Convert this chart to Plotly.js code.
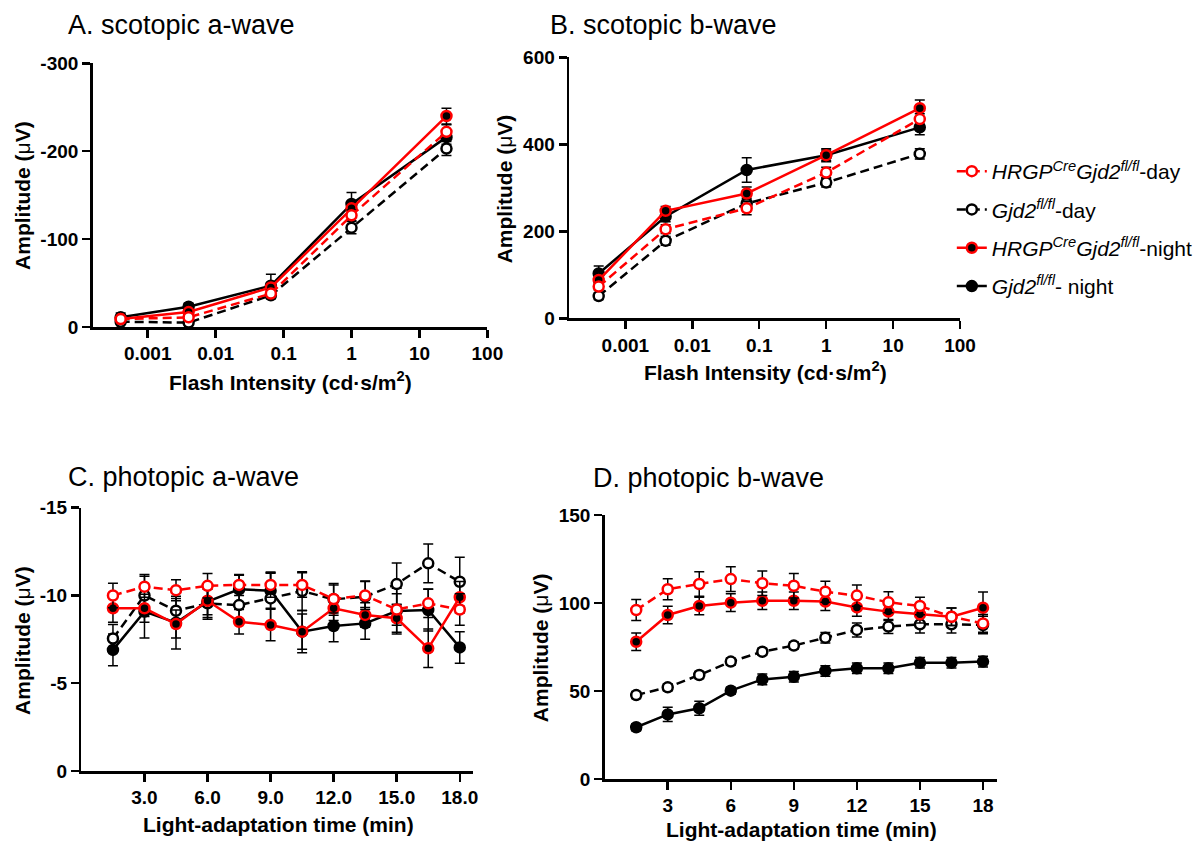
<!DOCTYPE html>
<html>
<head>
<meta charset="utf-8">
<script src="https://cdn.plot.ly/plotly-3.0.1.min.js"></script>
<style>html,body{margin:0;padding:0;background:#fff;}#chart{width:1198px;height:842px;}</style>
</head>
<body>
<div id="chart"></div>
<script>
// ---------- DATA ----------
var seriesNames = [
  "<i>HRGP<sup>Cre</sup>Gjd2<sup>fl/fl</sup></i>-day",
  "<i>Gjd2<sup>fl/fl</sup></i>-day",
  "<i>HRGP<sup>Cre</sup>Gjd2<sup>fl/fl</sup></i>-night",
  "<i>Gjd2<sup>fl/fl</sup></i>- night"
];
var flashIntensity = [0.0004, 0.004, 0.065, 1, 25];
var flashTickVals = [0.001, 0.01, 0.1, 1, 10, 100];
var flashTickText = ["0.001", "0.01", "0.1", "1", "10", "100"];
var adaptTime = [1.5, 3, 4.5, 6, 7.5, 9, 10.5, 12, 13.5, 15, 16.5, 18];
var adaptTickVals = [3, 6, 9, 12, 15, 18];
var adaptTickTextC = ["3.0", "6.0", "9.0", "12.0", "15.0", "18.0"];
var adaptTickTextD = ["3", "6", "9", "12", "15", "18"];

// A. scotopic a-wave (µV)
var aDayHRGP   = [-9, -11, -38, -127, -222];
var aDayGjd    = [-6, -5, -36, -113, -203];
var aNightHRGP = [-9, -17, -45, -135, -240];
var aNightGjd  = [-11, -23, -47, -140, -216];
var aErrDayHRGP   = [4, 3, 4, 6, 8];
var aErrDayGjd    = [3, 2, 4, 7, 8];
var aErrNightHRGP = [4, 3, 5, 8, 9];
var aErrNightGjd  = [5, 4, 13, 13, 8];

// B. scotopic b-wave (µV)
var bDayHRGP   = [73, 205, 253, 335, 458];
var bDayGjd    = [51, 178, 264, 312, 378];
var bNightHRGP = [88, 247, 287, 375, 483];
var bNightGjd  = [103, 234, 341, 375, 439];
var bErrDayHRGP   = [8, 10, 15, 12, 12];
var bErrDayGjd    = [8, 10, 12, 10, 12];
var bErrNightHRGP = [10, 10, 15, 12, 19];
var bErrNightGjd  = [17, 12, 28, 15, 17];

// C. photopic a-wave (µV)
var cDayHRGP   = [-10.0, -10.5, -10.3, -10.55, -10.6, -10.6, -10.6, -9.8, -10.0, -9.2, -9.55, -9.2];
var cDayGjd    = [-7.55, -10.0, -9.13, -9.55, -9.45, -9.83, -10.25, -9.78, -9.93, -10.65, -11.83, -10.78];
var cNightHRGP = [-9.27, -9.27, -8.37, -9.7, -8.5, -8.32, -7.94, -9.27, -8.89, -8.7, -6.99, -9.9];
var cNightGjd  = [-6.9, -9.08, -8.45, -9.65, -10.35, -10.27, -7.94, -8.26, -8.41, -9.11, -9.17, -7.04];
var cErrDayHRGP   = [0.7, 0.6, 0.6, 0.7, 0.6, 0.7, 0.7, 0.8, 0.8, 0.9, 0.8, 0.9];
var cErrDayGjd    = [0.8, 1.2, 0.7, 0.8, 0.8, 1.5, 1.1, 0.9, 0.9, 1.2, 1.1, 1.4];
var cErrNightHRGP = [0.8, 0.8, 0.8, 0.8, 0.7, 0.9, 1.0, 0.7, 0.7, 0.8, 1.1, 0.9];
var cErrNightGjd  = [0.9, 1.5, 1.5, 1.0, 0.8, 1.0, 1.2, 0.9, 0.9, 1.3, 1.2, 0.9];

// D. photopic b-wave (µV)
var dDayHRGP   = [96, 107.8, 110.8, 113.6, 111.2, 109.8, 106.4, 104.2, 100.4, 98.3, 92.2, 88.4];
var dDayGjd    = [47.7, 52.1, 59.1, 66.7, 72.3, 75.8, 80.3, 84.7, 86.6, 87.9, 87.9, 87.5];
var dNightHRGP = [78, 93.2, 98.3, 100.2, 101.3, 101.3, 100.8, 97.5, 95.1, 93.6, 92.2, 97.3];
var dNightGjd  = [29.4, 36.7, 40.2, 50.2, 56.6, 58.1, 61.4, 62.9, 62.9, 66.1, 66.1, 66.7];
var dErrDayHRGP   = [6, 6, 7, 7, 7, 7, 6, 6, 6, 5, 5, 5];
var dErrDayGjd    = [2, 2, 2, 2, 2, 2, 3, 4, 4, 5, 5, 5];
var dErrNightHRGP = [5, 5, 5, 5, 5, 5, 5, 5, 5, 5, 5, 9];
var dErrNightGjd  = [2, 4, 4, 2, 3, 3, 3, 3, 3, 3, 3, 3];

// ---------- STYLE ----------
var W = 1198, H = 842;
var FONT = "Liberation Sans, Arial, Helvetica, sans-serif";
var RED = "#ff0000", BLK = "#000000";
var styles = [
  {line: RED, dash: "9px,5px", fill: "#ffffff", mline: RED, rank: 1},
  {line: BLK, dash: "9px,5px", fill: "#ffffff", mline: BLK, rank: 2},
  {line: RED, dash: "solid",   fill: BLK,       mline: RED, rank: 3},
  {line: BLK, dash: "solid",   fill: BLK,       mline: BLK, rank: 4}
];
function px2x(p) { return p / W; }
function px2y(p) { return 1 - p / H; }

var panels = [
  {xa: "x",  ya: "y",  x: flashIntensity, ys: [aDayHRGP, aDayGjd, aNightHRGP, aNightGjd], es: [aErrDayHRGP, aErrDayGjd, aErrNightHRGP, aErrNightGjd], legend: false},
  {xa: "x2", ya: "y2", x: flashIntensity, ys: [bDayHRGP, bDayGjd, bNightHRGP, bNightGjd], es: [bErrDayHRGP, bErrDayGjd, bErrNightHRGP, bErrNightGjd], legend: true},
  {xa: "x3", ya: "y3", x: adaptTime,      ys: [cDayHRGP, cDayGjd, cNightHRGP, cNightGjd], es: [cErrDayHRGP, cErrDayGjd, cErrNightHRGP, cErrNightGjd], legend: false},
  {xa: "x4", ya: "y4", x: adaptTime,      ys: [dDayHRGP, dDayGjd, dNightHRGP, dNightGjd], es: [dErrDayHRGP, dErrDayGjd, dErrNightHRGP, dErrNightGjd], legend: false}
];
var drawOrder = [3, 1, 2, 0];
var traces = [];
panels.forEach(function (p) {
  drawOrder.forEach(function (k) {
    var s = styles[k];
    traces.push({
      type: "scatter", mode: "lines+markers",
      x: p.x, y: p.ys[k], xaxis: p.xa, yaxis: p.ya,
      name: seriesNames[k], legendgroup: "g" + k, legendrank: s.rank,
      showlegend: p.legend,
      line: {color: s.line, width: 2.5, dash: s.dash},
      marker: {symbol: "circle", size: 10, color: s.fill, line: {color: s.mline, width: 2.5}},
      error_y: {type: "data", array: p.es[k], visible: true, color: BLK, thickness: 1.5, width: 5},
      hoverinfo: "x+y"
    });
  });
});

function axisBase(extra) {
  var a = {
    showline: true, linecolor: BLK, linewidth: 2.5, mirror: false,
    ticks: "outside", ticklen: 8, tickwidth: 2.5, tickcolor: BLK,
    showgrid: false, zeroline: false, fixedrange: true,
    tickfont: {family: FONT, size: 19, color: BLK, weight: "bold"}
  };
  for (var k in extra) a[k] = extra[k];
  return a;
}

var layout = {
  width: W, height: H,
  margin: {l: 0, r: 0, t: 0, b: 0},
  paper_bgcolor: "#ffffff", plot_bgcolor: "#ffffff",
  font: {family: FONT, color: BLK},
  showlegend: true,
  legend: {
    x: px2x(955), y: px2y(151), xanchor: "left", yanchor: "top",
    font: {family: FONT, size: 21, color: BLK},
    bgcolor: "rgba(0,0,0,0)", borderwidth: 0,
    traceorder: "grouped", tracegroupgap: 8, itemwidth: 30
  },
  xaxis: axisBase({type: "log", domain: [px2x(93), px2x(489)], range: [-3.81, 2], anchor: "y",
    tickmode: "array", tickvals: flashTickVals, ticktext: flashTickText}),
  yaxis: axisBase({domain: [px2y(327), px2y(63.3)], range: [0, -300], anchor: "x",
    tickmode: "array", tickvals: [0, -100, -200, -300], ticktext: ["0", "-100", "-200", "-300"]}),
  xaxis2: axisBase({type: "log", domain: [px2x(571), px2x(963.3)], range: [-3.84, 2], anchor: "y2",
    tickmode: "array", tickvals: flashTickVals, ticktext: flashTickText}),
  yaxis2: axisBase({domain: [px2y(318.3), px2y(57.3)], range: [0, 600], anchor: "x2",
    tickmode: "array", tickvals: [0, 200, 400, 600], ticktext: ["0", "200", "400", "600"]}),
  xaxis3: axisBase({domain: [px2x(81.7), px2x(475)], range: [0, 18.65], anchor: "y3",
    tickmode: "array", tickvals: adaptTickVals, ticktext: adaptTickTextC}),
  yaxis3: axisBase({domain: [px2y(771), px2y(507.7)], range: [0, -15], anchor: "x3",
    tickmode: "array", tickvals: [0, -5, -10, -15], ticktext: ["0", "-5", "-10", "-15"]}),
  xaxis4: axisBase({domain: [px2x(606.7), px2x(1000)], range: [0, 18.65], anchor: "y4",
    tickmode: "array", tickvals: adaptTickVals, ticktext: adaptTickTextD}),
  yaxis4: axisBase({domain: [px2y(779), px2y(515)], range: [0, 150], anchor: "x4",
    tickmode: "array", tickvals: [0, 50, 100, 150], ticktext: ["0", "50", "100", "150"]}),
  annotations: []
};

function ann(text, xpx, ypx, size, opts) {
  var a = {text: text, xref: "paper", yref: "paper", x: px2x(xpx), y: px2y(ypx),
    showarrow: false, font: {family: FONT, size: size, color: BLK},
    xanchor: "center", yanchor: "middle"};
  for (var k in (opts || {})) a[k] = opts[k];
  layout.annotations.push(a);
}
// panel titles
ann("A. scotopic a-wave", 66, 25, 27, {xanchor: "left"});
ann("B. scotopic b-wave", 550, 25, 27, {xanchor: "left"});
ann("C. photopic a-wave", 66, 477, 27, {xanchor: "left"});
ann("D. photopic b-wave", 593, 478, 27, {xanchor: "left"});
// axis titles
var yTitle = "<b>Amplitude (</b>μ<b>V)</b>";
var xTitleFlash = "<b>Flash Intensity (cd·s/m<sup>2</sup>)</b>";
var xTitleTime = "<b>Light-adaptation time (min)</b>";
ann(yTitle, 22, 195, 21, {textangle: -90});
ann(yTitle, 507, 189, 21, {textangle: -90});
ann(yTitle, 22, 640, 21, {textangle: -90});
ann(yTitle, 542, 648, 21, {textangle: -90});
ann(xTitleFlash, 291, 381, 21);
ann(xTitleFlash, 768, 371, 21);
ann(xTitleTime, 279, 824, 21);
ann(xTitleTime, 804, 829, 21);

Plotly.newPlot("chart", traces, layout, {staticPlot: true, displayModeBar: false});
</script>
</body>
</html>
